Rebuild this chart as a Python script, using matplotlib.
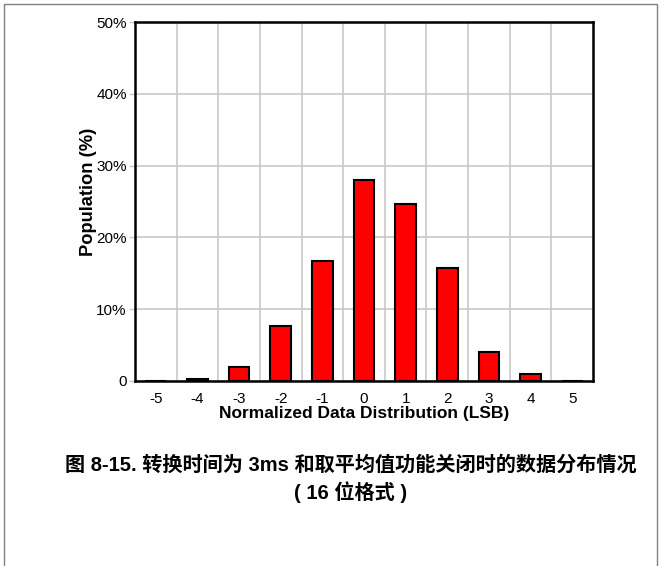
import matplotlib
matplotlib.use('Agg')
import matplotlib.pyplot as plt
from matplotlib.patches import Rectangle

lsb = [-5, -4, -3, -2, -1, 0, 1, 2, 3, 4, 5]
population = [0, 0.3, 2.0, 7.7, 16.7, 28.0, 24.7, 15.7, 4.0, 1.0, 0]
ytick_vals = [0, 10, 20, 30, 40, 50]
ytick_labels = ['0', '10%', '20%', '30%', '40%', '50%']
caption = '图 8-15. 转换时间为 3ms 和取平均值功能关闭时的数据分布情况\n( 16 位格式 )'

plt.rcParams['font.family'] = ['Liberation Sans', 'Noto Sans CJK SC']

fig = plt.figure(figsize=(6.61, 5.66), dpi=100)
W, H = 661, 566
ax = fig.add_axes([135/W, 1-381/H, 458/W, (381-22)/H])

ax.bar(lsb, population, width=0.5, color='#ff0000', edgecolor='black', linewidth=1.5, zorder=3)

ax.set_xlim(-5.5, 5.5)
ax.set_ylim(0, 50)
ax.set_xticks(lsb)
ax.set_xticklabels([str(v) for v in lsb])
ax.set_xticks([v + 0.5 for v in lsb[:-1]], minor=True)
ax.set_yticks(ytick_vals)
ax.set_yticklabels(ytick_labels)
ax.grid(True, which='minor', axis='x', color='#c8c8c8', linewidth=1.2, zorder=0)
ax.grid(True, which='major', axis='y', color='#c8c8c8', linewidth=1.2, zorder=0)
ax.tick_params(which='both', length=0, labelsize=11, labelcolor='black')
ax.tick_params(axis='x', pad=8)
ax.tick_params(axis='y', length=4, width=1, color='#c8c8c8', pad=2)
for s in ax.spines.values():
    s.set_linewidth(1.8)
    s.set_zorder(4)

ax.set_xlabel('Normalized Data Distribution (LSB)', fontsize=12.5, fontweight='bold', labelpad=0)
ax.set_ylabel('Population (%)', fontsize=13.2, fontweight='bold')
ax.yaxis.set_label_coords((97-135)/458, (381-192)/359)

fig.text(351/W, 1-479/H, caption, ha='center', va='center', fontsize=14.5,
         fontweight='bold', linespacing=1.35)

fig.patches.append(Rectangle((4/W, -0.05), 653/W, 1.05-4/H, transform=fig.transFigure,
                             fill=False, edgecolor='#808080', linewidth=1))

fig.savefig('out.png', dpi=100)
